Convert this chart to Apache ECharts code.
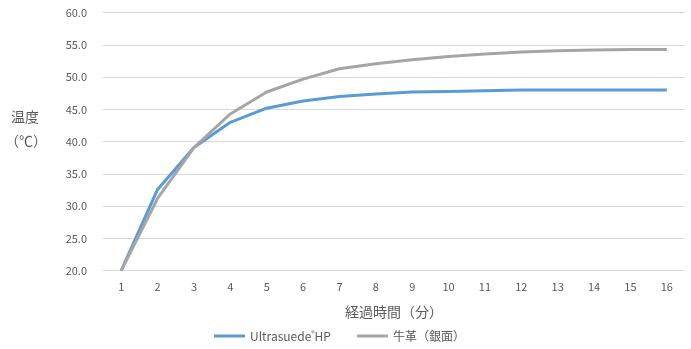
<!DOCTYPE html>
<html><head><meta charset="utf-8">
<script src="https://cdn.jsdelivr.net/npm/echarts@6/dist/echarts.min.js"></script>
<style>html,body{margin:0;padding:0;background:#fff}#c{width:691px;height:349px}</style>
</head><body><div id="c"></div>
<script>
const categories = ['1','2','3','4','5','6','7','8','9','10','11','12','13','14','15','16'];
const ultrasuede = [20.0,32.6,39.1,43.0,45.2,46.3,47.0,47.4,47.7,47.8,47.9,48.0,48.0,48.0,48.0,48.0];
const leather = [20.0,31.2,39.1,44.3,47.7,49.7,51.3,52.1,52.7,53.2,53.6,53.9,54.1,54.2,54.3,54.3];
const seriesNames = ['Ultrasuede®HP','牛革（銀面）'];
const yTitle = ['温度','（℃）'];
const xTitle = '経過時間（分）';

const font = '"Noto Sans CJK JP","Noto Sans",sans-serif';
const chart = echarts.init(document.getElementById('c'));
chart.setOption({
  animation:false,
  textStyle:{fontFamily:font},
  grid:{left:103,right:6,top:12.7,bottom:78.3},
  xAxis:{type:'category',data:categories,boundaryGap:true,
    axisLine:{lineStyle:{color:'#D9D9D9'}},axisTick:{show:false},
    axisLabel:{color:'#595959',fontSize:11,margin:11,fontFamily:font},
    name:xTitle,nameLocation:'middle',nameGap:34,
    nameTextStyle:{color:'#595959',fontSize:14,fontFamily:font}},
  yAxis:{type:'value',min:20,max:60,interval:5,
    axisLine:{show:false},axisTick:{show:false},
    splitLine:{lineStyle:{color:'#D9D9D9'}},
    axisLabel:{color:'#595959',fontSize:11,margin:16,formatter:v=>v.toFixed(1),fontFamily:font}},
  legend:{bottom:2,left:209,itemWidth:31,itemHeight:3,icon:'rect',itemGap:26,
    textStyle:{color:'#595959',fontSize:12,fontFamily:font,
      rich:{s:{fontSize:7,verticalAlign:'top',color:'#595959'}}},
    formatter:function(n){return n.replace('®','{s|®}');}},
  graphic:[
    {type:'text',left:11,top:110,style:{text:yTitle[0],fill:'#595959',font:'14px '+font}},
    {type:'text',left:5,top:134,style:{text:yTitle[1],fill:'#595959',font:'14px '+font}}
  ],
  series:[
    {name:seriesNames[0],type:'line',data:ultrasuede,symbol:'none',lineStyle:{width:3,color:'#5B9BD5'},itemStyle:{color:'#5B9BD5'}},
    {name:seriesNames[1],type:'line',data:leather,symbol:'none',lineStyle:{width:3,color:'#A5A5A5'},itemStyle:{color:'#A5A5A5'}}
  ]
});
</script></body></html>
